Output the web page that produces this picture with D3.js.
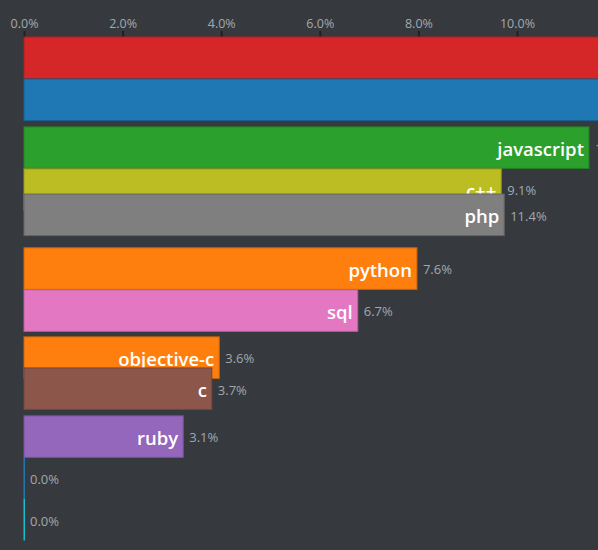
<!DOCTYPE html>
<html><head><meta charset="utf-8">
<script src="https://cdn.jsdelivr.net/npm/d3@7"></script>
<style>
html,body{margin:0;padding:0;background:#363a3f;overflow:hidden}
svg{display:block}
</style></head>
<body>
<script>
// Data (a frame of a bar-chart race: ranks are mid-transition)
const names  = ["", "", "javascript", "c++", "php", "python", "sql", "objective-c", "c", "ruby", "", ""];
const values = [14.0, 13.0, 11.46, 9.68, 9.74, 7.97, 6.77, 3.96, 3.81, 3.23, 0, 0];
const ranks  = [0, 1, 2.14, 3.14, 3.74, 5.02, 6.02, 7.14, 7.88, 9.02, 10.02, 11.0];
const valueLabels = ["", "", "11.6%", "9.1%", "11.4%", "7.6%", "6.7%", "3.6%", "3.7%", "3.1%", "0.0%", "0.0%"];
const colors = ["#d62728", "#1f77b4", "#2ca02c", "#bcbd22", "#7f7f7f", "#ff7f0e", "#e377c2", "#ff7f0e", "#8c564b", "#9467bd", "#1f77b4", "#17becf"];
const tickValues = [0, 2, 4, 6, 8, 10];

const W = 598, H = 550;
const margin = {top: 37, left: 24};
const nBars = 12;

const x = d3.scaleLinear().domain([0, 10]).range([margin.left, 517]);
const y = d3.scaleLinear().domain([0, nBars]).range([margin.top, 541]);
const barH = y(1) - y(0) - 0.5;

const svg = d3.select("body").append("svg").attr("width", W).attr("height", H);

const axis = d3.axisTop(x).tickValues(tickValues).tickFormat(d => d.toFixed(1) + "%").tickSize(6).tickSizeOuter(0);
const gA = svg.append("g").attr("transform", `translate(0,${margin.top})`).call(axis);
gA.select(".domain").remove();
gA.selectAll(".tick line").attr("stroke", "#1e2024").attr("stroke-width", 2);
gA.selectAll(".tick text").attr("fill", "#a3a8ad").attr("font-family", "'Open Sans', sans-serif").attr("font-size", 12.5).attr("dy", "0em");

const data = names.map((n, i) => ({name: n, value: values[i], rank: ranks[i], label: valueLabels[i], color: colors[i]}));

const g = svg.selectAll("g.bar").data(data).join("g").attr("class", "bar");
g.append("rect")
  .attr("x", d => d.value > 0 ? x(0) : x(0) - 0.5)
  .attr("y", d => y(d.rank))
  .attr("width", d => d.value > 0 ? x(d.value) - x(0) : 1.5)
  .attr("height", barH)
  .attr("fill", d => d.color)
  .attr("stroke", d => d.value > 0 ? d3.color(d.color).darker(0.6) : "none")
  .attr("stroke-width", 1);

g.filter(d => d.name).append("text")
  .attr("x", d => x(d.value) - 5)
  .attr("y", d => y(d.rank) + barH / 2)
  .attr("dy", "0.45em")
  .attr("text-anchor", "end")
  .attr("fill", "#ffffff")
  .attr("font-family", "'Open Sans', sans-serif")
  .attr("font-weight", 600)
  .attr("font-size", 18.5)
  .text(d => d.name);

g.filter(d => d.label).append("text")
  .attr("x", d => x(d.value) + 6)
  .attr("y", d => y(d.rank) + barH / 2)
  .attr("dy", "0.45em")
  .attr("fill", "#a3a8ad")
  .attr("font-family", "'Open Sans', sans-serif")
  .attr("font-size", 13)
  .text(d => d.label);
</script>
</body></html>
